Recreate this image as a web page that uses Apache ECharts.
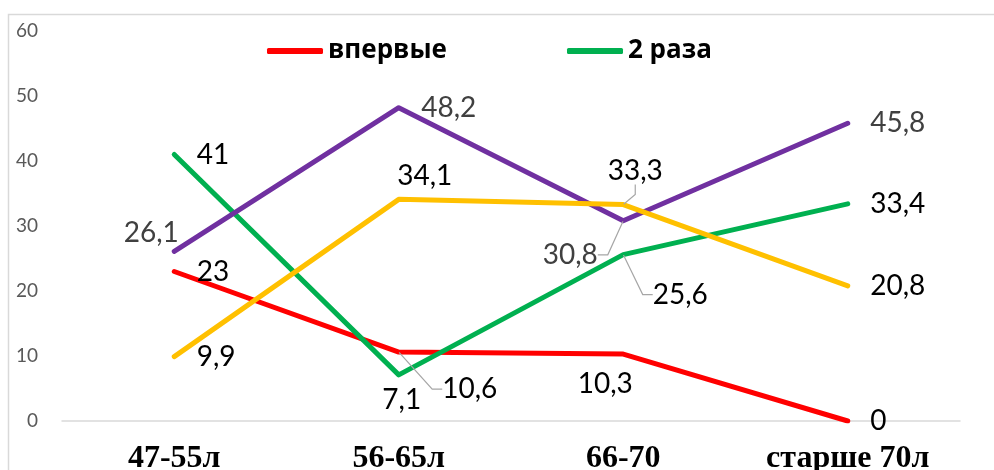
<!DOCTYPE html>
<html>
<head>
<meta charset="utf-8">
<script src="https://cdn.jsdelivr.net/npm/echarts@6/dist/echarts.min.js"></script>
<style>
  html, body { margin: 0; padding: 0; background: #fff; }
  #chart { width: 994px; height: 470px; }
</style>
</head>
<body>
<div id="chart"></div>
<script>
// Age groups along the x axis
const categories = ['47-55л', '56-65л', '66-70', 'старше 70л'];

// Series values
const firstTime = [23, 10.6, 10.3, 0];      // впервые
const twice = [41, 7.1, 25.6, 33.4];         // 2 раза
const threeTimes = [9.9, 34.1, 33.3, 20.8];  // 3 раза
const moreTimes = [26.1, 48.2, 30.8, 45.8];  // более 3 раз

// Value axis range
const yMin = 0, yMax = 60, yStep = 10;

// Label placement per point: 'r' = right of the point,
// {move: [dx, dy]} = centred on the point, then shifted,
// {lead: [dx, dy]} = shifted and tied back to the point with a leader line
const firstTimePlace = ['r', { lead: [71, 37] }, { move: [-18, 30] }, 'r'];
const twicePlace = ['r', { move: [3, 25] }, { lead: [57, 40] }, 'r'];
const threeTimesPlace = ['r', { move: [26, -23] }, { lead: [12, -34] }, 'r'];
const moreTimesPlace = [{ move: [-23, -18] }, 'r', { lead: [-53, 34] }, 'r'];

const labelFont = 'Lato, "Open Sans", sans-serif';

function fmt(v) { return String(v).replace('.', ','); }

function buildData(values, places, textColor) {
  return values.map((v, i) => {
    const p = places[i];
    const label = p === 'r'
      ? { position: 'right', distance: 22, offset: [0, 3] }
      : { position: 'inside' };
    label.color = textColor;
    const item = { value: v, label: label };
    if (p && p.lead) {
      item.labelLine = { show: true, length2: 10, lineStyle: { color: '#a6a6a6', width: 1.2 } };
    }
    return item;
  });
}

function placeLayout(places) {
  return function (params) {
    const p = places[params.dataIndex];
    const d = p && (p.lead || p.move);
    if (d) return { dx: d[0], dy: d[1] };
    return {};
  };
}

function lineSeries(name, values, places, color, textColor) {
  return {
    name: name,
    type: 'line',
    data: buildData(values, places, textColor),
    symbol: 'circle',
    symbolSize: 1,
    showSymbol: true,
    itemStyle: { color: color },
    lineStyle: { color: color, width: 5, cap: 'round', join: 'round' },
    label: {
      show: true,
      formatter: p => fmt(p.value),
      fontFamily: labelFont,
      fontSize: 28
    },
    labelLayout: placeLayout(places),
    emphasis: { disabled: true },
    animation: false
  };
}

const chart = echarts.init(document.getElementById('chart'), null, { renderer: 'canvas' });

const legendText = {
  fontFamily: '"Open Sans", "Noto Sans", sans-serif',
  fontWeight: 'bold',
  fontSize: 26,
  color: '#000'
};

chart.setOption({
  backgroundColor: '#ffffff',
  animation: false,
  grid: {
    left: 62, right: 34, top: 31, bottom: 49,
    containLabel: false,
    outerBoundsMode: 'none'
  },
  legend: [
    {
      data: ['впервые'], left: 267, top: 38, padding: 0,
      itemWidth: 56, itemHeight: 6, icon: 'roundRect', itemGap: 0,
      textStyle: legendText, selectedMode: false
    },
    {
      data: ['2 раза'], left: 567, top: 38, padding: 0,
      itemWidth: 56, itemHeight: 6, icon: 'roundRect', itemGap: 0,
      textStyle: legendText, selectedMode: false
    }
  ],
  xAxis: {
    type: 'category',
    data: categories,
    boundaryGap: true,
    axisLine: { show: true, lineStyle: { color: '#d9d9d9', width: 1.5 } },
    axisTick: { show: false },
    splitLine: { show: false },
    axisLabel: {
      interval: 0,
      margin: 22,
      fontFamily: '"Liberation Serif", "Times New Roman", serif',
      fontWeight: 'bold',
      fontSize: 32,
      color: '#000'
    }
  },
  yAxis: {
    type: 'value',
    min: yMin,
    max: yMax,
    interval: yStep,
    axisLine: { show: false },
    axisTick: { show: false },
    splitLine: { show: false },
    axisLabel: {
      margin: 24,
      fontFamily: labelFont,
      fontSize: 19,
      color: '#595959'
    }
  },
  graphic: [
    {
      type: 'rect',
      silent: true,
      shape: { x: 8.5, y: 14.5, width: 1100, height: 600 },
      style: { fill: 'none', stroke: '#d9d9d9', lineWidth: 1.5 },
      z: -1
    }
  ],
  series: [
    lineSeries('впервые', firstTime, firstTimePlace, '#ff0000', '#000000'),
    lineSeries('2 раза', twice, twicePlace, '#00b050', '#000000'),
    lineSeries('более 3 раз', moreTimes, moreTimesPlace, '#7030a0', '#404040'),
    lineSeries('3 раза', threeTimes, threeTimesPlace, '#ffc000', '#000000')
  ]
});
</script>
</body>
</html>
